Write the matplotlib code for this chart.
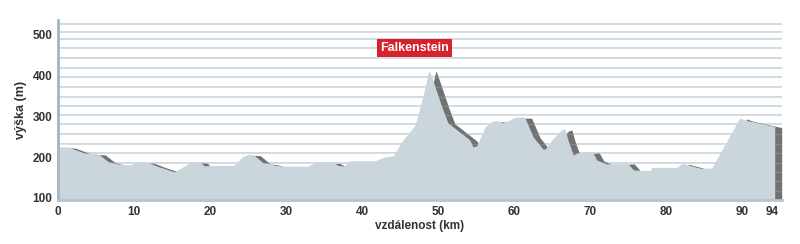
import matplotlib
matplotlib.use("Agg")
import matplotlib.pyplot as plt
import numpy as np
from matplotlib import font_manager

# ---- data ----
dist_km = [0, 1.3, 3.5, 5.3, 6.6, 7.9, 9.5, 10.4, 11.7, 13.2, 15.3, 17.6, 18.7, 19.2,
           22.5, 22.9, 23.5, 24.2, 25.0, 25.7, 27.0, 27.9, 28.6, 29.5, 32.9, 33.8,
           36.2, 36.8, 37.6, 38.4, 41.7, 43.0, 44.1, 45.4, 47.0, 48.0, 48.8, 49.3,
           50.5, 51.3, 52.2, 54.2, 54.6, 55.1, 56.2, 57.2, 58.0, 58.5, 59.2, 60.1,
           61.4, 62.5, 63.8, 64.1, 65.2, 66.3, 66.7, 67.1, 67.8, 68.3, 70.3, 70.9,
           72.2, 74.9, 75.7, 76.8, 77.9, 78.1, 81.4, 82.1, 82.9, 84.5, 86.0, 89.7,
           90.6, 94.3]
elev_m = [225, 225, 210, 208, 189, 183, 181, 188, 188, 177, 164, 189, 188, 179,
          180, 178, 186, 200, 207, 206, 186, 184, 180, 178, 178, 187,
          187, 180, 178, 191, 191, 201, 203, 242, 279, 348, 414, 389,
          323, 284, 271, 242, 225, 228, 274, 289, 289, 284, 289, 298,
          298, 250, 220, 220, 247, 267, 269, 242, 205, 210, 213, 193,
          183, 186, 169, 167, 167, 175, 175, 185, 181, 173, 173, 296,
          290, 275]
xticks = [0, 10, 20, 30, 40, 50, 60, 70, 80, 90, 94]
yticks = [100, 200, 300, 400, 500]
grid_levels = [117, 142, 164, 186, 210, 232, 256, 280, 303, 325, 348, 373,
               396, 419, 442, 467, 489, 506, 526]
peak_name = "Falkenstein"
peak_pos = (46.9, 467)

# ---- fonts ----
avail = {f.name for f in font_manager.fontManager.ttflist}
fam = [f for f in ["Liberation Sans Narrow", "Liberation Sans", "DejaVu Sans"] if f in avail]
plt.rcParams['font.family'] = fam

x = np.array(dist_km)
y = np.array(elev_m)

fig = plt.figure(figsize=(8.0, 2.44), dpi=100)
ax = fig.add_axes([58/800, 44/244, 724/800, 180/244])
ymin, ymax = 95, 536
ax.set_xlim(0, 95.26)
ax.set_ylim(ymin, ymax)

light = "#cbd6dc"
dark = "#717171"
gridc = "#c9d6de"

# grid lines
for g in grid_levels:
    ax.axhline(g, color=gridc, lw=1.3, zorder=1)

# shadow (extruded copy)
dx, dy = 0.92, -2.5
ax.fill_between(x + dx, y + dy, ymin, color=dark, lw=0, zorder=2)
# faint grid over dark wall
for g in grid_levels:
    ax.axhline(g, color="white", lw=1.0, alpha=0.15, zorder=3)
# main profile
ax.fill_between(x, y, ymin, color=light, lw=0, zorder=4)

# spines
for s in ["top", "right"]:
    ax.spines[s].set_visible(False)
ax.spines["left"].set_color("#a3b6c3")
ax.spines["left"].set_linewidth(2)
ax.spines["bottom"].set_color("#b5c4ce")
ax.spines["bottom"].set_linewidth(2)
ax.spines["left"].set_zorder(6)
ax.spines["bottom"].set_zorder(6)

ax.set_xticks(xticks)
ax.set_xticklabels([str(t) for t in xticks])
ax.set_yticks(yticks)
ax.tick_params(axis="both", length=0, labelsize=8.5, colors="#333333")
ax.tick_params(axis="x", pad=4)
ax.tick_params(axis="y", pad=4)
for lab in ax.get_xticklabels() + ax.get_yticklabels():
    lab.set_fontweight("bold")

ax.set_xlabel("vzdálenost (km)", fontsize=8.5, fontweight="bold", color="#333333", labelpad=2)
ax.set_ylabel("výška (m)", fontsize=9, fontweight="bold", color="#333333", labelpad=4)

ax.text(peak_pos[0], peak_pos[1], peak_name, ha="center", va="center",
        fontsize=9, fontweight="bold", color="white", zorder=8,
        bbox=dict(boxstyle="square,pad=0.25", fc="#d6222b", ec="none"))

fig.savefig("out.png", dpi=100, facecolor="white")
